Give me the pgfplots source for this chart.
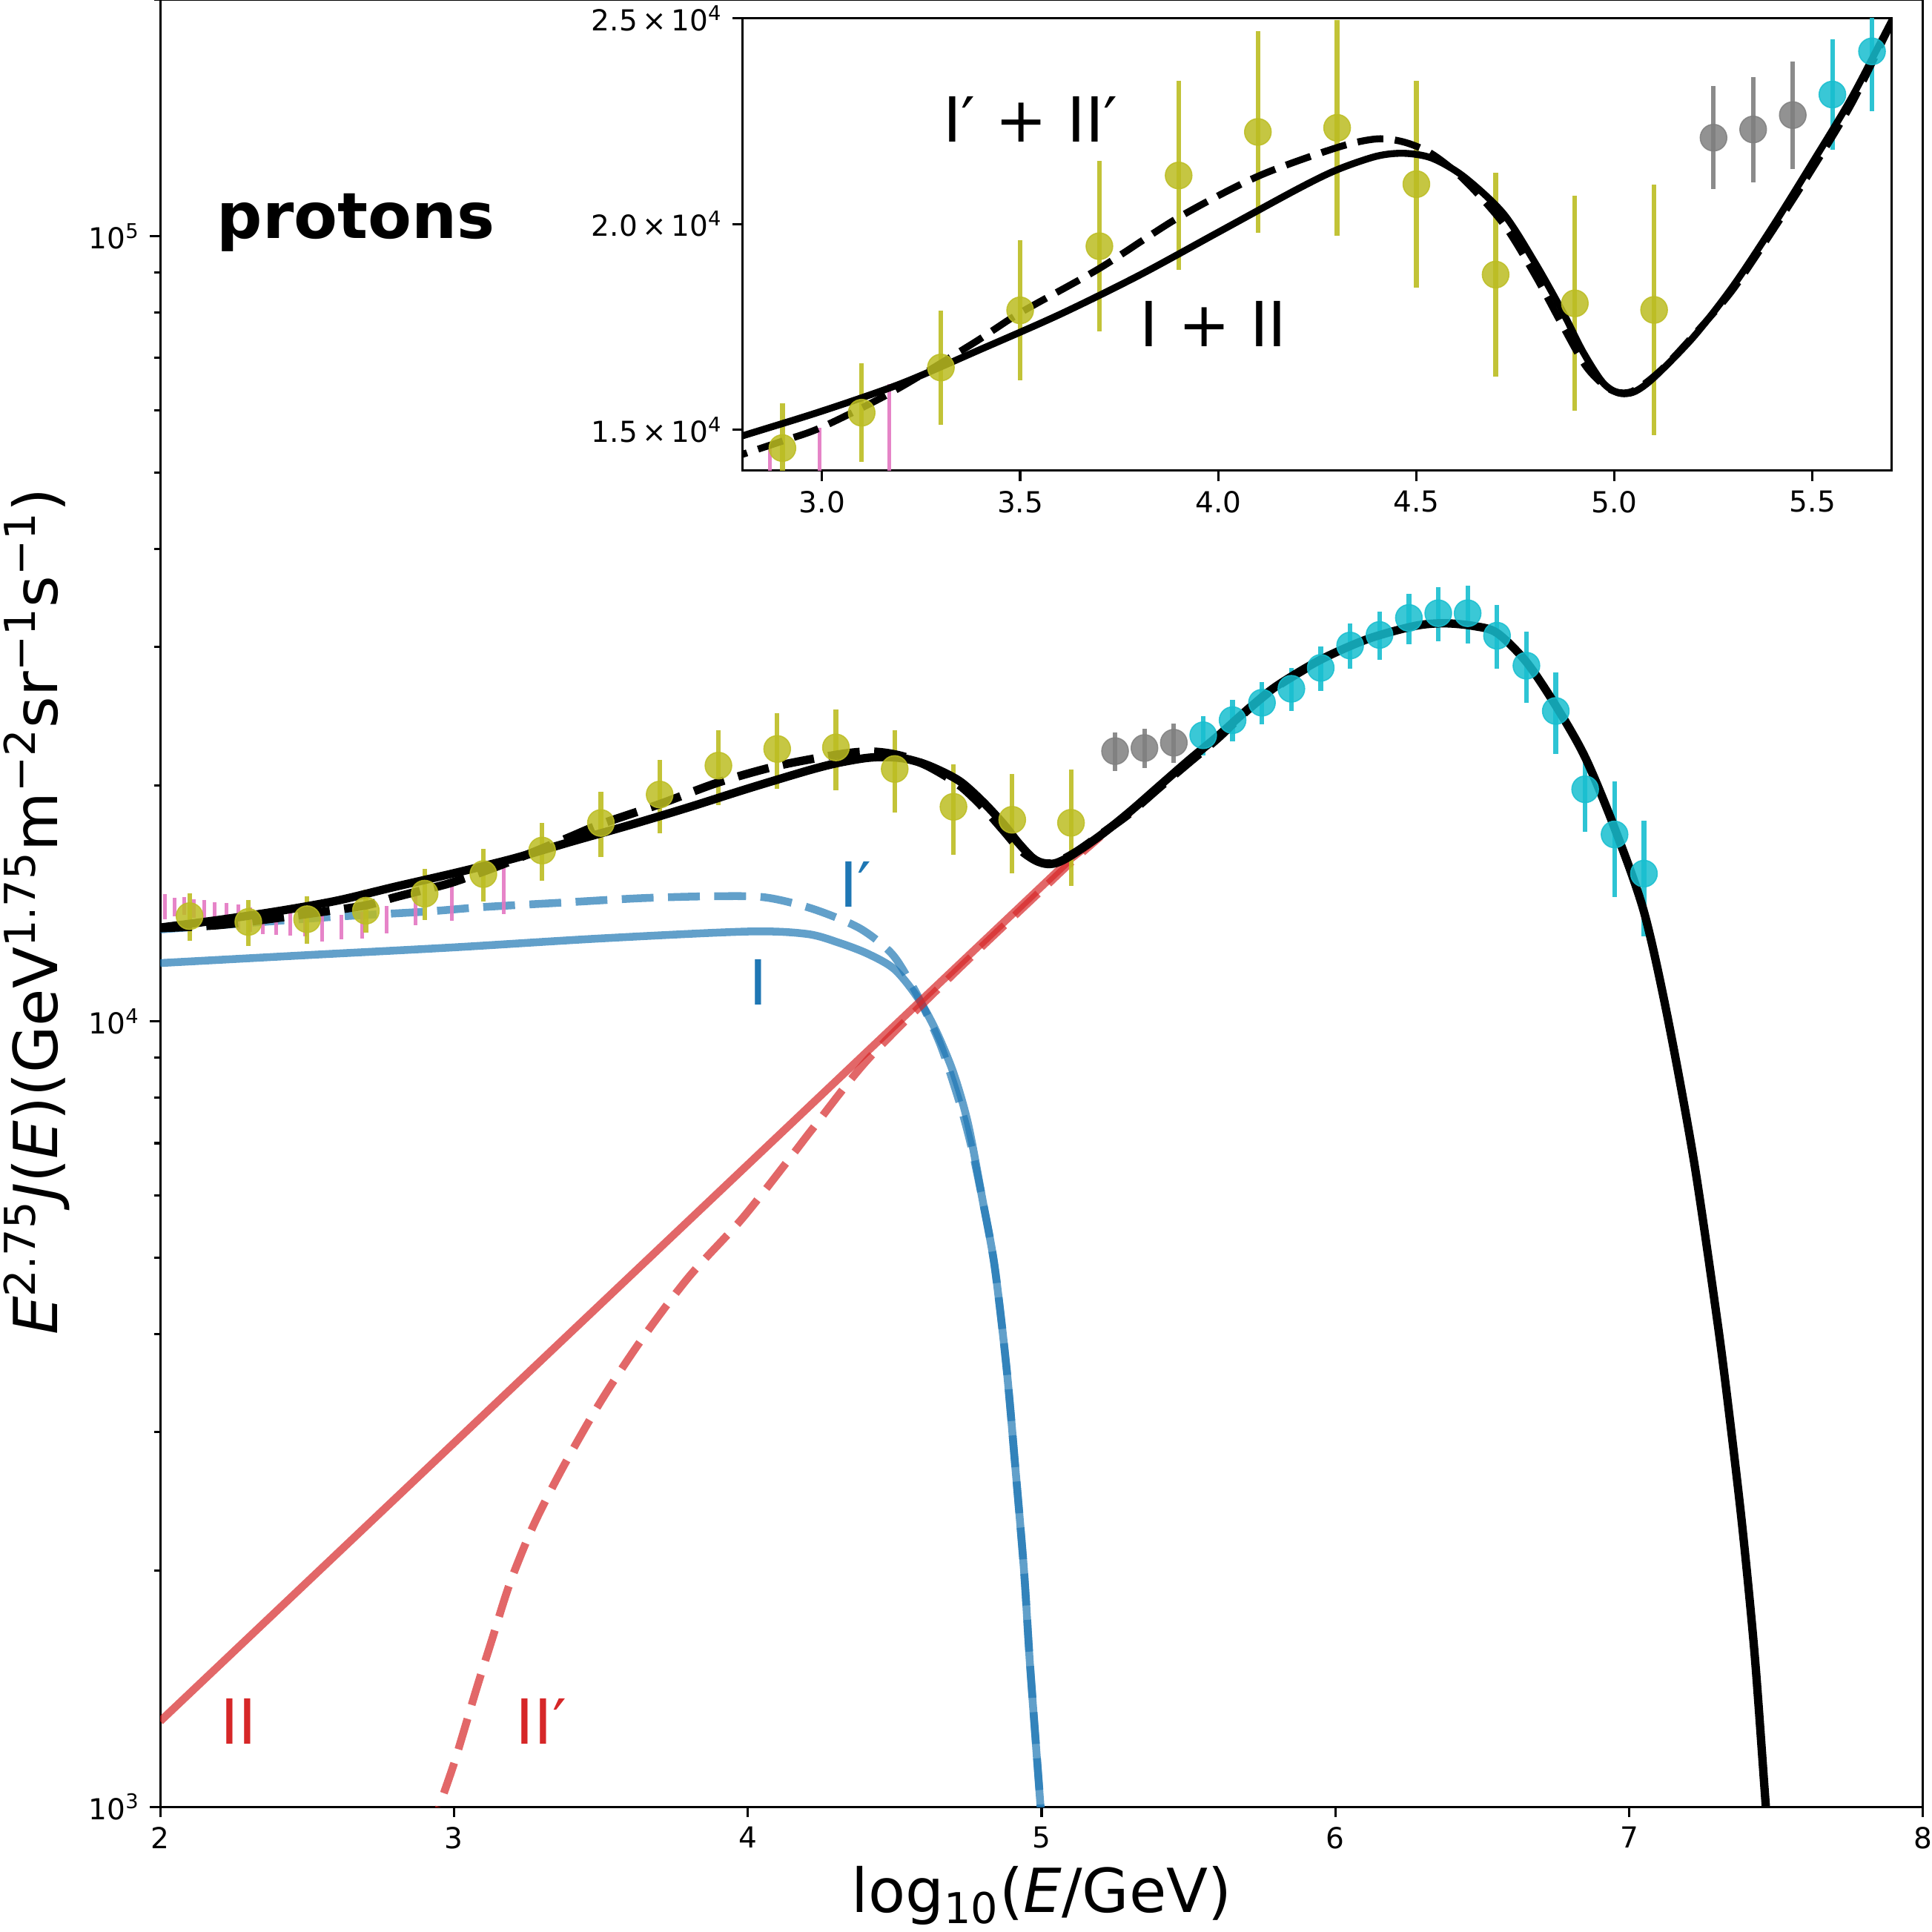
\documentclass[border=0pt]{standalone}
\usepackage{fontspec}
\setmainfont{DejaVu Sans}
\usepackage{pgfplots}
\usepackage{pgfplotstable}
\pgfplotsset{compat=1.18}

\definecolor{tabblue}{HTML}{1F77B4}
\definecolor{tabred}{HTML}{D62728}
\definecolor{olivec}{HTML}{BCBD22}
\definecolor{cyanc}{HTML}{17BECF}
\definecolor{grayc}{HTML}{7F7F7F}
\definecolor{pinkc}{HTML}{E377C2}

% model curves: total (I+II), total' (I'+II'), components
\pgfplotstableread{
x y
2.00 13170
2.20 13470
2.40 13820
2.60 14250
2.80 14850
3.00 15450
3.20 16120
3.40 16950
3.60 17800
3.80 18750
4.00 19800
4.20 20850
4.30 21320
4.40 21650
4.47 21720
4.54 21600
4.62 21150
4.72 20250
4.80 19050
4.87 17850
4.92 16900
4.97 16150
5.01 15890
5.05 15920
5.10 16270
5.20 17260
5.30 18500
5.40 19950
5.50 21500
5.60 23100
5.70 24950
5.80 26750
5.95 28900
6.11 30700
6.27 31900
6.37 32150
6.47 31900
6.55 31250
6.65 28700
6.75 25250
6.85 21700
6.95 17640
7.05 13800
7.13 10150
7.22 6650
7.30 4150
7.34 3170
7.385 2270
7.427 1560
7.465 1000
7.48 850
}\tot
\pgfplotstableread{
x y
2.00 13150
2.20 13270
2.40 13550
2.55 13790
2.70 14060
2.80 14400
2.90 14720
3.00 15060
3.18 15930
3.38 17090
3.50 17840
3.70 18920
3.90 20160
4.10 21160
4.30 21860
4.40 22070
4.47 21990
4.54 21700
4.62 21080
4.72 20000
4.80 18750
4.87 17510
4.93 16510
4.99 15970
5.045 15930
5.12 16470
5.22 17510
5.30 18420
5.40 19850
5.50 21350
5.60 22950
5.70 24900
5.80 26700
5.95 28880
}\totp
\pgfplotstableread{
x y
2.00 11870
2.50 12150
3.00 12430
3.50 12760
4.00 13020
4.20 12930
4.31 12600
4.41 12190
4.50 11650
4.58 10700
4.64 9740
4.70 8600
4.75 7400
4.80 5900
4.84 4880
4.88 3640
4.91 2720
4.94 2000
4.96 1525
4.985 1140
5.00 960
}\compI
\pgfplotstableread{
x y
2.00 13100
2.30 13350
2.60 13600
2.90 13800
3.10 13990
3.35 14160
3.64 14360
3.89 14440
4.06 14390
4.22 13920
4.38 13150
4.49 12200
4.56 11100
4.61 10200
4.66 9250
4.72 7900
4.76 6950
4.80 5900
4.84 4880
4.88 3640
4.91 2720
4.94 2000
4.96 1530
4.985 1145
5.00 960
}\compIp
\pgfplotstableread{
x y
2.00 1285
5.10 16130
5.20 17250
5.30 18450
}\compII
\pgfplotstableread{
x y
2.92 914
2.95 1000
2.998 1129
3.03 1236
3.08 1427
3.13 1636
3.19 1925
3.27 2280
3.37 2702
3.50 3285
3.64 3943
3.80 4732
3.98 5607
4.15 6750
4.22 7300
4.41 8960
4.70 11500
5.00 14700
5.10 15950
5.20 17200
}\compIIp

% measurements
\pgfplotstableread{
x y e
2.016 14010 517
2.048 14000 384
2.081 14040 373
2.114 13940 382
2.151 13870 409
2.186 13770 424
2.225 13690 480
2.266 13580 501
2.307 13480 485
2.350 13380 470
2.394 13310 422
2.442 13320 462
2.494 13280 449
2.552 13160 518
2.616 13200 475
2.688 13270 523
2.770 13500 544
2.869 13900 650
2.993 14250 800
3.169 14900 1200
}\pinkdata
\pgfplotstableread{
x y e
2.1 13620 940
2.3 13390 900
2.5 13500 940
2.7 13840 870
2.9 14550 1080
3.1 15410 1200
3.3 16510 1390
3.5 17900 1700
3.7 19460 2080
3.9 21180 2300
4.1 22240 2460
4.3 22340 2620
4.5 20970 2520
4.7 18770 2480
4.9 18070 2610
5.1 17910 3040
}\olivedata
\pgfplotstableread{
x y e
5.25 22100 1250
5.35 22300 1280
5.45 22650 1310
}\graydata
\pgfplotstableread{
x y e
5.55 23150 1340
5.65 24200 1460
5.75 25470 1570
5.85 26530 1670
5.95 28210 1840
6.05 30120 2000
6.15 31070 2190
6.25 32660 2400
6.35 33110 2620
6.45 33110 2790
6.55 31000 2890
6.65 28390 2950
6.75 24860 2950
6.85 19760 2300
6.95 17310 2910
7.05 15430 2600
}\cyandata

\pgfplotsset{
  datapts/.style={only marks, color=#1, mark=*, mark size=4.6pt,
    mark options={draw=#1, fill=#1, opacity=0.85},
    error bars/.cd, y dir=both, y explicit, error mark=none,
    error bar style={line width=1.6pt, color=#1, opacity=0.9}},
  errbars/.style={draw=none, mark=none,
    error bars/.cd, y dir=both, y explicit, error mark=none,
    error bar style={line width=1.3pt, color=#1, opacity=0.9}},
  frame/.style={
    axis line style={line width=0.8pt},
    tick style={line width=0.8pt, color=black},
    major tick length=3.5pt, minor tick length=2pt,
    tick align=outside, xtick pos=left, ytick pos=left,
    tick label style={font=\fontsize{10}{12}\selectfont},
    /pgf/number format/assume math mode=true},
}

\begin{document}
\begin{tikzpicture}
\begin{axis}[
  frame, name=main,
  scale only axis, width=609.7pt, height=624.9pt,
  xmin=2, xmax=8, ymode=log, ymin=1000, ymax=2e5,
  xtick={2,3,4,5,6,7,8},
  ytick={1000,10000,100000},
  yticklabels={10\textsuperscript{3},10\textsuperscript{4},10\textsuperscript{5}},
  minor ytick={2000,3000,4000,5000,6000,7000,8000,9000,20000,30000,40000,50000,60000,70000,80000,90000,200000},
  xlabel={log\textsubscript{10}(\textit{E}/GeV)},
  ylabel={\textit{E}\textsuperscript{2.75}\textit{J}(\textit{E})(GeV\textsuperscript{1.75}m\textsuperscript{−2}sr\textsuperscript{−1}s\textsuperscript{−1})},
  xlabel style={at={(axis description cs:0.5,-0.0585)}, anchor=base, font=\fontsize{21}{25}\selectfont},
  ylabel style={at={(axis description cs:-0.0584,0.4955)}, anchor=base, font=\fontsize{21}{25}\selectfont},
]
% components
\addplot[smooth, line width=2.7pt, color=tabblue, opacity=0.7] table {\compI};
\addplot[smooth, line width=2.7pt, color=tabblue, opacity=0.7, dash pattern=on 11pt off 5pt] table {\compIp};
\addplot[line width=2.7pt, color=tabred, opacity=0.7] table {\compII};
\addplot[smooth, line width=2.7pt, color=tabred, opacity=0.7, dash pattern=on 11pt off 5pt] table {\compIIp};
% data
\addplot[errbars=pinkc] table[x=x, y=y, y error=e] {\pinkdata};
\addplot[datapts=olivec] table[x=x, y=y, y error=e] {\olivedata};
\addplot[datapts=grayc] table[x=x, y=y, y error=e] {\graydata};
\addplot[datapts=cyanc] table[x=x, y=y, y error=e] {\cyandata};
% totals
\addplot[smooth, line width=2.9pt, color=black, dash pattern=on 11pt off 5pt] table {\totp};
\addplot[smooth, line width=2.9pt, color=black] table {\tot};
% labels
\node[anchor=base, font=\fontsize{22}{26}\selectfont\bfseries] at (axis cs:2.666,99400) {protons};
\node[anchor=base, text=tabblue, font=\fontsize{21.5}{25}\selectfont] at (axis cs:4.035,10490) {I};
\node[anchor=base, text=tabblue, font=\fontsize{21.5}{25}\selectfont] at (axis cs:4.367,13985) {I′};
\node[anchor=base, text=tabred, font=\fontsize{21.5}{25}\selectfont] at (axis cs:2.267,1201) {II};
\node[anchor=base, text=tabred, font=\fontsize{21.5}{25}\selectfont] at (axis cs:3.297,1201) {II′};
\end{axis}

\begin{axis}[
  frame,
  at={(201.5pt,462.1pt)}, anchor=south west,
  scale only axis, width=397.4pt, height=156.4pt,
  axis background/.style={fill=white},
  xmin=2.8, xmax=5.7, ymin=14000, ymax=25000,
  scaled ticks=false,
  xtick={3,3.5,4,4.5,5,5.5},
  xticklabels={3.0,3.5,4.0,4.5,5.0,5.5},
  ytick={15000,20000,25000},
  yticklabels={1.5\,×\,10\textsuperscript{4},2.0\,×\,10\textsuperscript{4},2.5\,×\,10\textsuperscript{4}},
]
\addplot[errbars=pinkc] table[x=x, y=y, y error=e] {\pinkdata};
\addplot[datapts=olivec] table[x=x, y=y, y error=e] {\olivedata};
\addplot[datapts=grayc] table[x=x, y=y, y error=e] {\graydata};
\addplot[datapts=cyanc] table[x=x, y=y, y error=e] {\cyandata};
\addplot[smooth, line width=2.4pt, color=black, dash pattern=on 9pt off 4pt] table {\totp};
\addplot[smooth, line width=2.4pt, color=black] table {\tot};
\node[anchor=base, font=\fontsize{21.5}{25}\selectfont] at (axis cs:3.526,21995) {I′ + II′};
\node[anchor=base, font=\fontsize{21.5}{25}\selectfont] at (axis cs:3.988,17018) {I + II};
\end{axis}
\pgfresetboundingbox
\path[use as bounding box] (-55.4pt,-43.1pt) rectangle (612.8pt,624.9pt);
\end{tikzpicture}
\end{document}
